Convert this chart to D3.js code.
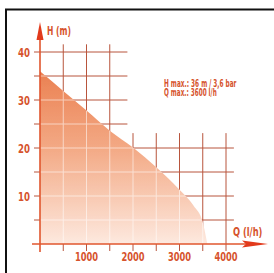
<!DOCTYPE html>
<html>
<head>
<meta charset="utf-8">
<script src="https://cdn.jsdelivr.net/npm/d3@7"></script>
<style>
    html, body { margin: 0; padding: 0; background: #fff; }
    svg { display: block; }
    text { font-family: "Liberation Sans Narrow", "DejaVu Sans Condensed", Arial, sans-serif; font-weight: bold; }
</style>
</head>
<body>
<svg id="chart" width="274" height="273"></svg>
<script>
// pump curve
const flowQ = [0, 500, 1000, 1500, 2000, 2500, 3000, 3300, 3500, 3600];
const headH = [36, 31.9, 27.8, 23.6, 20.1, 16, 11.3, 8, 4.5, 0];

const xTicks = [1000, 2000, 3000, 4000];
const yTicks = [10, 20, 30, 40];
const xGrid = [500, 1000, 1500, 2000, 2500, 3000, 3500, 4000];
const yGrid = [5, 10, 15, 20, 25, 30, 35, 40];
const infoLines = ["H max.: 36 m / 3,6 bar", "Q max.: 3600 l/h"];
const axisLabels = { x: "Q (l/h)", y: "H (m)" };

const colors = {
    grid: "#b8553d",
    axis: "#e0562e",
    arrow: "#e23a1c",
    text: "#d6532d",
    frame: "#111"
};

var svg = d3.select("#chart");

var x = d3.scaleLinear().domain([0, 4000]).range([40, 226]);
var y = d3.scaleLinear().domain([0, 40]).range([244, 52]);

// the narrow font is missing: squeeze each text horizontally around its anchor
// px, py = anchor point; perChar = wanted width of one character
var squeeze = (sel, px, py, perChar) => sel.each(function (d, i) {
    var t = d3.select(this);
    var w = this.getComputedTextLength();
    var k = Math.min(1, String(d).length * perChar / w);
    var ax = typeof px == "function" ? px(d, i) : px;
    var ay = typeof py == "function" ? py(d, i) : py;
    t.attr("x", 0).attr("y", 0)
        .attr("transform", `translate(${ax},${ay}) scale(${k},1)`);
});

// frame (only left and top edges visible)
svg.append("path")
    .attr("d", "M6,273V9.5H274")
    .attr("fill", "none")
    .attr("stroke", colors.frame)
    .attr("stroke-width", 2);

// gradient for the area
var defs = svg.append("defs");
var grad = defs.append("linearGradient")
    .attr("id", "fillGrad")
    .attr("gradientUnits", "userSpaceOnUse")
    .attr("x1", 0).attr("x2", 0)
    .attr("y1", y(36)).attr("y2", y(0));
grad.append("stop").attr("offset", "0%").attr("stop-color", "#eb8152");
grad.append("stop").attr("offset", "45%").attr("stop-color", "#f3aa86");
grad.append("stop").attr("offset", "100%").attr("stop-color", "#fde9df");

var pts = flowQ.map((q, i) => ({ q, h: headH[i] }));

var area = d3.area()
    .x(d => x(d.q))
    .y0(y(0))
    .y1(d => y(d.h))
    .curve(d3.curveMonotoneX);

defs.append("clipPath").attr("id", "areaClip")
    .append("path").attr("d", area(pts));

// grid lines: the upper right part is left free for the text
var gridLines = (g, color, width) => {
    g.selectAll("line.v")
        .data(xGrid)
        .join("line")
        .attr("class", "v")
        .attr("x1", d => x(d)).attr("x2", d => x(d))
        .attr("y1", y(0) + 7)
        .attr("y2", d => d <= 1500 ? y(41.6) : y(23.1))
        .attr("stroke", color)
        .attr("stroke-width", width);
    g.selectAll("line.h")
        .data(yGrid)
        .join("line")
        .attr("class", "h")
        .attr("x1", x(0) - 6)
        .attr("x2", d => d <= 20 ? x(4170) : x(1880))
        .attr("y1", d => y(d)).attr("y2", d => y(d))
        .attr("stroke", color)
        .attr("stroke-width", width);
};

svg.append("g").call(gridLines, colors.grid, 1);

// area
svg.append("path")
    .attr("d", area(pts))
    .attr("fill", "url(#fillGrad)");

// white grid inside the area
svg.append("g")
    .attr("clip-path", "url(#areaClip)")
    .attr("opacity", 0.55)
    .call(gridLines, "#fff", 1);

// axes
svg.append("line")
    .attr("x1", x(0)).attr("x2", x(0))
    .attr("y1", y(0) + 8).attr("y2", 36)
    .attr("stroke", colors.axis)
    .attr("stroke-width", 1.6);
svg.append("line")
    .attr("x1", x(0) - 8).attr("x2", 246)
    .attr("y1", y(0)).attr("y2", y(0))
    .attr("stroke", colors.axis)
    .attr("stroke-width", 1.6);

// arrow heads
svg.append("path")
    .attr("d", `M${x(0)},22L${x(0) + 3.5},40L${x(0) - 3.5},40Z`)
    .attr("fill", colors.arrow);
svg.append("path")
    .attr("d", `M268,${y(0)}L242,${y(0) - 3.5}L246,${y(0)}L242,${y(0) + 3.5}Z`)
    .attr("fill", colors.arrow);

// tick labels
svg.append("g")
    .selectAll("text")
    .data(yTicks)
    .join("text")
    .attr("dy", "0.38em")
    .attr("text-anchor", "end")
    .attr("font-size", 12)
    .attr("fill", colors.text)
    .text(d => d)
    .call(squeeze, x(0) - 10, d => y(d), 6);

svg.append("g")
    .selectAll("text")
    .data(xTicks)
    .join("text")
    .attr("text-anchor", "middle")
    .attr("font-size", 12)
    .attr("fill", colors.text)
    .text(d => d)
    .call(squeeze, d => x(d), y(0) + 17, 5.8);

// axis titles
svg.append("text")
    .datum(axisLabels.y)
    .attr("font-size", 11.5)
    .attr("fill", colors.text)
    .text(d => d)
    .call(squeeze, 47, 35, 4.8);
svg.append("text")
    .datum(axisLabels.x)
    .attr("font-size", 11.5)
    .attr("fill", colors.text)
    .text(d => d)
    .call(squeeze, 233, 236, 4.2);

// info box (tight line spacing as in the original)
svg.append("g")
    .selectAll("text")
    .data(infoLines)
    .join("text")
    .attr("font-size", 11)
    .attr("fill", colors.text)
    .text(d => d)
    .call(squeeze, 164, (d, i) => 87 + i * 9, 3.3);
</script>
</body>
</html>
